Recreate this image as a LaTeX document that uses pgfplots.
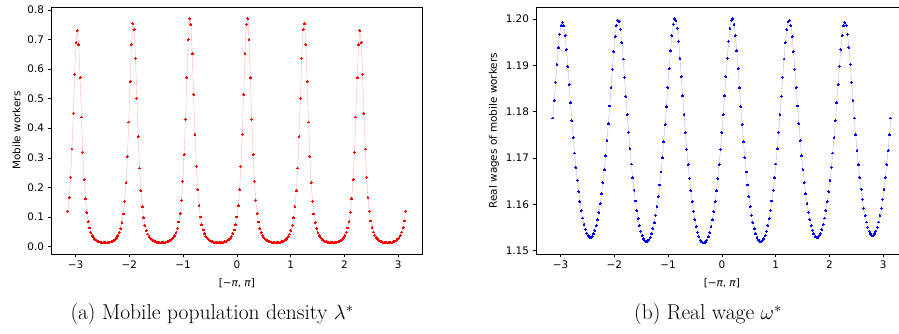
\documentclass[border=0pt]{standalone}
\usepackage{fontspec}
\usepackage{pgfplots}
\usepackage{pgfplotstable}
\pgfplotsset{compat=1.18}
\newfontfamily\dejavu{DejaVu Sans}

\pgfplotstableread{
x lam w
-3.1416 0.1198 1.17862
-3.1165 0.1664 1.18243
-3.0913 0.2349 1.18636
-3.0662 0.3297 1.19023
-3.0411 0.4506 1.19379
-3.0159 0.5826 1.19672
-2.9908 0.6899 1.19865
-2.9657 0.7299 1.19930
-2.9405 0.6815 1.19851
-2.9154 0.5698 1.19644
-2.8903 0.4377 1.19341
-2.8651 0.3191 1.18977
-2.8400 0.2271 1.18585
-2.8149 0.1610 1.18189
-2.7897 0.1159 1.17806
-2.7646 0.0842 1.17443
-2.7395 0.0630 1.17107
-2.7143 0.0481 1.16799
-2.6892 0.0379 1.16522
-2.6641 0.0305 1.16274
-2.6389 0.0252 1.16056
-2.6138 0.0213 1.15866
-2.5887 0.0185 1.15704
-2.5635 0.0165 1.15569
-2.5384 0.0150 1.15460
-2.5133 0.0140 1.15378
-2.4881 0.0133 1.15321
-2.4630 0.0129 1.15289
-2.4379 0.0134 1.15285
-2.4127 0.0136 1.15310
-2.3876 0.0143 1.15362
-2.3625 0.0152 1.15438
-2.3373 0.0167 1.15542
-2.3122 0.0186 1.15671
-2.2871 0.0213 1.15829
-2.2619 0.0250 1.16012
-2.2368 0.0301 1.16227
-2.2117 0.0370 1.16469
-2.1865 0.0470 1.16743
-2.1614 0.0607 1.17045
-2.1363 0.0813 1.17379
-2.1111 0.1102 1.17738
-2.0860 0.1532 1.18122
-2.0609 0.2158 1.18520
-2.0358 0.3041 1.18919
-2.0106 0.4209 1.19297
-1.9855 0.5569 1.19623
-1.9604 0.6825 1.19859
-1.9352 0.7527 1.19973
-1.9101 0.7338 1.19943
-1.8850 0.6362 1.19774
-1.8598 0.5016 1.19493
-1.8347 0.3711 1.19136
-1.8096 0.2655 1.18740
-1.7844 0.1881 1.18332
-1.7593 0.1343 1.17932
-1.7342 0.0977 1.17552
-1.7090 0.0720 1.17195
-1.6839 0.0548 1.16870
-1.6588 0.0425 1.16573
-1.6336 0.0340 1.16308
-1.6085 0.0278 1.16072
-1.5834 0.0234 1.15867
-1.5582 0.0201 1.15690
-1.5331 0.0178 1.15543
-1.5080 0.0160 1.15421
-1.4828 0.0148 1.15327
-1.4577 0.0140 1.15259
-1.4326 0.0135 1.15218
-1.4074 0.0133 1.15200
-1.3823 0.0137 1.15205
-1.3572 0.0140 1.15231
-1.3320 0.0146 1.15284
-1.3069 0.0156 1.15362
-1.2818 0.0171 1.15469
-1.2566 0.0191 1.15600
-1.2315 0.0218 1.15762
-1.2064 0.0256 1.15950
-1.1812 0.0308 1.16169
-1.1561 0.0379 1.16417
-1.1310 0.0481 1.16698
-1.1058 0.0621 1.17006
-1.0807 0.0832 1.17348
-1.0556 0.1128 1.17716
-1.0304 0.1568 1.18108
-1.0053 0.2209 1.18516
-0.9802 0.3113 1.18924
-0.9550 0.4309 1.19311
-0.9299 0.5701 1.19644
-0.9048 0.6987 1.19887
-0.8796 0.7706 1.20003
-0.8545 0.7513 1.19973
-0.8294 0.6513 1.19801
-0.8042 0.5135 1.19516
-0.7791 0.3799 1.19155
-0.7540 0.2719 1.18754
-0.7288 0.1926 1.18342
-0.7037 0.1375 1.17937
-0.6786 0.1000 1.17551
-0.6535 0.0737 1.17190
-0.6283 0.0561 1.16861
-0.6032 0.0435 1.16560
-0.5781 0.0348 1.16292
-0.5529 0.0285 1.16053
-0.5278 0.0240 1.15846
-0.5027 0.0206 1.15667
-0.4775 0.0182 1.15517
-0.4524 0.0164 1.15394
-0.4273 0.0152 1.15299
-0.4021 0.0143 1.15230
-0.3770 0.0138 1.15188
-0.3519 0.0136 1.15170
-0.3267 0.0136 1.15170
-0.3016 0.0138 1.15188
-0.2765 0.0143 1.15230
-0.2513 0.0152 1.15299
-0.2262 0.0164 1.15394
-0.2011 0.0182 1.15517
-0.1759 0.0206 1.15667
-0.1508 0.0240 1.15846
-0.1257 0.0285 1.16053
-0.1005 0.0348 1.16292
-0.0754 0.0435 1.16560
-0.0503 0.0561 1.16861
-0.0251 0.0737 1.17190
0.0000 0.1000 1.17551
0.0251 0.1375 1.17937
0.0503 0.1926 1.18342
0.0754 0.2719 1.18754
0.1005 0.3799 1.19155
0.1257 0.5135 1.19516
0.1508 0.6513 1.19801
0.1759 0.7513 1.19973
0.2011 0.7706 1.20003
0.2262 0.6987 1.19887
0.2513 0.5701 1.19644
0.2765 0.4309 1.19311
0.3016 0.3113 1.18924
0.3267 0.2209 1.18516
0.3519 0.1568 1.18108
0.3770 0.1128 1.17716
0.4021 0.0832 1.17348
0.4273 0.0621 1.17006
0.4524 0.0481 1.16698
0.4775 0.0379 1.16417
0.5027 0.0308 1.16169
0.5278 0.0256 1.15950
0.5529 0.0218 1.15762
0.5781 0.0191 1.15600
0.6032 0.0171 1.15469
0.6283 0.0156 1.15362
0.6535 0.0146 1.15284
0.6786 0.0140 1.15231
0.7037 0.0137 1.15205
0.7288 0.0133 1.15200
0.7540 0.0135 1.15218
0.7791 0.0140 1.15259
0.8042 0.0148 1.15327
0.8294 0.0160 1.15421
0.8545 0.0178 1.15543
0.8796 0.0201 1.15690
0.9048 0.0234 1.15867
0.9299 0.0278 1.16072
0.9550 0.0340 1.16308
0.9802 0.0425 1.16573
1.0053 0.0548 1.16870
1.0304 0.0720 1.17195
1.0556 0.0977 1.17552
1.0807 0.1343 1.17932
1.1058 0.1881 1.18332
1.1310 0.2655 1.18740
1.1561 0.3711 1.19136
1.1812 0.5016 1.19493
1.2064 0.6362 1.19774
1.2315 0.7338 1.19943
1.2566 0.7527 1.19973
1.2818 0.6825 1.19859
1.3069 0.5569 1.19623
1.3320 0.4209 1.19297
1.3572 0.3041 1.18919
1.3823 0.2158 1.18520
1.4074 0.1532 1.18122
1.4326 0.1102 1.17738
1.4577 0.0813 1.17379
1.4828 0.0607 1.17045
1.5080 0.0470 1.16743
1.5331 0.0370 1.16469
1.5582 0.0301 1.16227
1.5834 0.0250 1.16012
1.6085 0.0213 1.15829
1.6336 0.0186 1.15671
1.6588 0.0167 1.15542
1.6839 0.0152 1.15438
1.7090 0.0143 1.15362
1.7342 0.0136 1.15310
1.7593 0.0134 1.15285
1.7844 0.0129 1.15289
1.8096 0.0133 1.15321
1.8347 0.0140 1.15378
1.8598 0.0150 1.15460
1.8850 0.0165 1.15569
1.9101 0.0185 1.15704
1.9352 0.0213 1.15866
1.9604 0.0252 1.16056
1.9855 0.0305 1.16274
2.0106 0.0379 1.16522
2.0358 0.0481 1.16799
2.0609 0.0630 1.17107
2.0860 0.0842 1.17443
2.1111 0.1159 1.17806
2.1363 0.1610 1.18189
2.1614 0.2271 1.18585
2.1865 0.3191 1.18977
2.2117 0.4377 1.19341
2.2368 0.5698 1.19644
2.2619 0.6815 1.19851
2.2871 0.7299 1.19930
2.3122 0.6899 1.19865
2.3373 0.5826 1.19672
2.3625 0.4506 1.19379
2.3876 0.3297 1.19023
2.4127 0.2349 1.18636
2.4379 0.1664 1.18243
2.4630 0.1198 1.17862
2.4881 0.0866 1.17498
2.5133 0.0649 1.17164
2.5384 0.0493 1.16854
2.5635 0.0387 1.16578
2.5887 0.0310 1.16328
2.6138 0.0257 1.16110
2.6389 0.0217 1.15917
2.6641 0.0188 1.15755
2.6892 0.0167 1.15618
2.7143 0.0151 1.15509
2.7395 0.0140 1.15423
2.7646 0.0133 1.15365
2.7897 0.0129 1.15330
2.8149 0.0129 1.15330
2.8400 0.0133 1.15365
2.8651 0.0140 1.15423
2.8903 0.0151 1.15509
2.9154 0.0167 1.15618
2.9405 0.0188 1.15755
2.9657 0.0217 1.15917
2.9908 0.0257 1.16110
3.0159 0.0310 1.16328
3.0411 0.0387 1.16578
3.0662 0.0493 1.16854
3.0913 0.0649 1.17164
3.1165 0.0866 1.17498
3.1416 0.1198 1.17862
}\data

\pgfplotsset{
  mpl/.style={
    scale only axis, width=371.7pt, height=246.7pt, anchor=south west,
    xmin=-3.456, xmax=3.456,
    tick align=outside, tick pos=left, major tick length=3.5pt,
    axis line style={line width=0.6pt},
    tick style={black, line width=0.6pt},
    tick label style={font=\dejavu\fontsize{10.4}{12}\selectfont},
    label style={font=\dejavu\fontsize{10.4}{12}\selectfont},
    xlabel style={yshift=-3pt},
    xtick={-3,-2,-1,0,1,2,3},
    xticklabels={−3,−2,−1,0,1,2,3},
    xlabel={[−\textit{π}, \textit{π}]},
  }
}

\begin{document}
\begin{tikzpicture}
\useasboundingbox (0pt,0pt) rectangle (899pt,334pt);
\begin{axis}[mpl, at={(51pt,80pt)},
  ymin=-0.025, ymax=0.8085,
  ytick={0,0.1,0.2,0.3,0.4,0.5,0.6,0.7,0.8},
  yticklabels={0.0,0.1,0.2,0.3,0.4,0.5,0.6,0.7,0.8},
  ylabel={Mobile workers}]
\addplot[color=red!30, line width=0.4pt, mark=*, mark size=0.95pt,
  mark options={draw=red, fill=red, line width=0pt}] table[x=x, y=lam] {\data};
\end{axis}
\begin{axis}[mpl, at={(536pt,80pt)},
  ymin=1.14928, ymax=1.20252,
  ytick={1.15,1.16,1.17,1.18,1.19,1.20},
  yticklabels={1.15,1.16,1.17,1.18,1.19,1.20},
  ylabel={Real wages of mobile workers}]
\addplot[color=blue!30, line width=0.4pt, mark=*, mark size=0.95pt,
  mark options={draw=blue, fill=blue, line width=0pt}] table[x=x, y=w] {\data};
\end{axis}
\node[anchor=base, font=\fontsize{21.5}{25}\selectfont] at (212pt,14pt) {(a) Mobile population density $\lambda^*$};
\node[anchor=base, font=\fontsize{21.5}{25}\selectfont] at (708pt,14pt) {(b) Real wage $\omega^*$};
\end{tikzpicture}
\end{document}
